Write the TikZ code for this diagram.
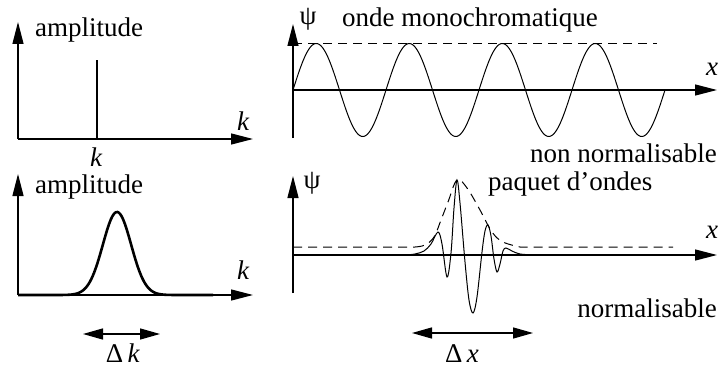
\documentclass[tikz,border=0pt]{standalone}
\usepackage{fontspec}
\setmainfont{Liberation Serif}
\usetikzlibrary{arrows.meta}
\tikzset{
  axis/.style={line width=1.3pt,-{Triangle[length=22pt,width=11pt]}},
  dbl/.style={line width=1.3pt,{Triangle[length=20pt,width=11pt]}-{Triangle[length=20pt,width=11pt]}},
  thick curve/.style={line width=2.6pt},
  wave/.style={line width=1pt},
  env/.style={line width=1pt,dash pattern=on 9pt off 6pt},
  lbl/.style={font=\fontsize{27}{30}\selectfont,inner sep=0pt},
}
\begin{document}
\begin{tikzpicture}[x=1pt,y=-1pt]
\useasboundingbox (0,0) rectangle (723,369);
% ---------- top left ----------
\coordinate (o1) at (18,139);
\coordinate (y1) at (18,22);
\coordinate (x1) at (253,139);
\draw[axis] (o1) -- (y1);
\draw[axis] (o1) -- (x1);
\coordinate (s1) at (97,139);
\coordinate (s2) at (97,60);
\draw[line width=2.6pt] (s1) -- (s2);
\node[lbl,anchor=base west] (amp1) at (35,37) {amplitude};
\node[lbl,anchor=base] (k1) at (243,130) {\itshape k};
\node[lbl,anchor=base] (k2) at (96,166) {\itshape k};
% ---------- bottom left ----------
\coordinate (o2) at (18,295);
\coordinate (y2) at (18,174);
\coordinate (x2) at (253,295);
\draw[axis] (o2) -- (y2);
\draw[axis] (o2) -- (x2);
\draw[thick curve] plot[domain=18:213,samples=150] (\x,{295-83*exp(-((\x-117)/20)^2)});
\node[lbl,anchor=base west] (amp2) at (35,193) {amplitude};
\node[lbl,anchor=base] (k3) at (243,279) {\itshape k};
\coordinate (dk1) at (83,334);
\coordinate (dk2) at (160,334);
\draw[dbl] (dk1) -- (dk2);
\node[lbl,anchor=base] (dk) at (123,362) {Δ\,\textit{k}};
% ---------- top right ----------
\coordinate (o3) at (293,90);
\coordinate (y3a) at (293,138);
\coordinate (y3) at (293,24);
\coordinate (x3) at (717,90);
\draw[axis] (y3a) -- (y3);
\draw[axis] (o3) -- (x3);
\draw[wave] plot[domain=0:372,samples=300] ({293+\x},{90-46.5*sin(3.871*\x)});
\coordinate (d1) at (293,44);
\coordinate (d2) at (657,44);
\draw[env] (d1) -- (d2);
\node[lbl,anchor=base] (psi1) at (308,25) {ψ};
\node[lbl,anchor=base west] (t1) at (342,27) {onde monochromatique};
\node[lbl,anchor=base] (xl1) at (712,75) {\itshape x};
\node[lbl,anchor=base east] (t2) at (717,162) {non normalisable};
% ---------- bottom right ----------
\coordinate (o4) at (293,255);
\coordinate (y4a) at (293,293);
\coordinate (y4) at (293,176);
\coordinate (x4) at (717,255);
\draw[axis] (y4a) -- (y4);
\draw[axis] (o4) -- (x4);
\draw[env] (293,247) -- (415,247)
  plot[smooth,tension=0.6] coordinates {(415,247) (425,245) (434,237) (441,220) (448,202) (457,180) (467,188) (480,210) (492,232) (503,242) (520,247)}
  -- (673,247);
\draw[wave] (293,255) -- (405,255)
  plot[smooth,tension=0.55] coordinates {(405,255) (415,254) (424,251) (431,244) (438,232) (442,244) (447,277) (451,253) (454,208) (457,180) (460,203) (465,262) (469,300) (473,313) (477,297) (482,252) (485,231) (488,225) (491,236) (494,259) (497,272) (500,264) (503,251) (506,248) (512,251) (520,254) (535,255)};
\node[lbl,anchor=base] (psi2) at (312,188) {ψ};
\node[lbl,anchor=base west] (t3) at (488,190) {paquet d’ondes};
\node[lbl,anchor=base] (xl2) at (712,238) {\itshape x};
\node[lbl,anchor=base east] (t4) at (717,317) {normalisable};
\coordinate (dx1) at (412,333);
\coordinate (dx2) at (533,333);
\draw[dbl] (dx1) -- (dx2);
\node[lbl,anchor=base] (dx) at (462,362) {Δ\,\textit{x}};
\end{tikzpicture}
\end{document}
